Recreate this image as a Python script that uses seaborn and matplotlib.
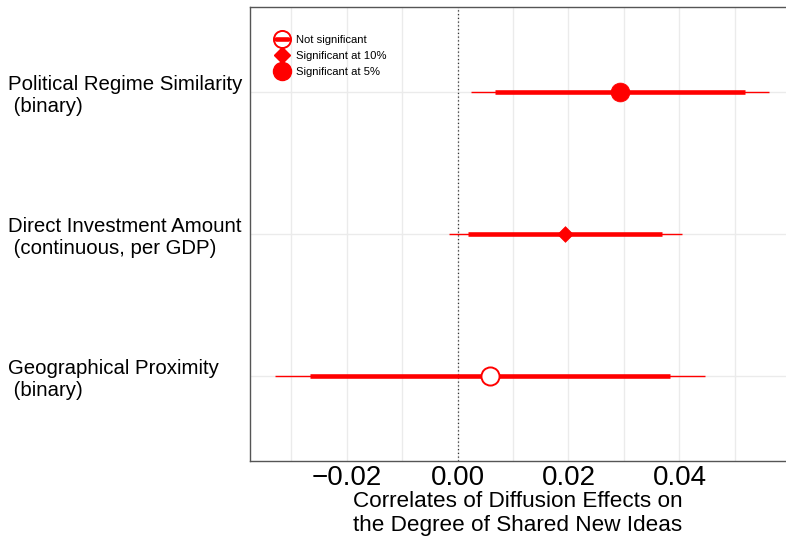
import numpy as np
import pandas as pd
import matplotlib
matplotlib.use("Agg")
import matplotlib.pyplot as plt
from matplotlib.lines import Line2D
from matplotlib.legend_handler import HandlerTuple
import seaborn as sns

# ---- data ----
variables = ["Political Regime Similarity\n (binary)",
             "Direct Investment Amount\n (continuous, per GDP)",
             "Geographical Proximity\n (binary)"]
estimates = [0.0293, 0.0194, 0.0059]
ci90_low = [0.0068, 0.0019, -0.0265]
ci90_high = [0.0518, 0.0368, 0.0383]
ci95_low = [0.0024, -0.0016, -0.0329]
ci95_high = [0.0561, 0.0404, 0.0446]
significance = ["Significant at 5%", "Significant at 10%", "Not significant"]
legend_labels = ["Not significant", "Significant at 10%", "Significant at 5%"]
xticks = [-0.02, 0.00, 0.02, 0.04]
xlabel = "Correlates of Diffusion Effects on\nthe Degree of Shared New Ideas"

df = pd.DataFrame({"variable": variables, "est": estimates,
                   "lo90": ci90_low, "hi90": ci90_high,
                   "lo95": ci95_low, "hi95": ci95_high,
                   "sig": significance})
df["ypos"] = np.arange(len(df))[::-1] + 1.0

sns.set_style("white")
plt.rcParams["font.family"] = ["Liberation Sans", "DejaVu Sans"]
plt.rcParams["text.color"] = "black"
plt.rcParams["xtick.color"] = "black"
plt.rcParams["ytick.color"] = "black"
plt.rcParams["axes.labelcolor"] = "black"

RED = "#FF0000"
fig = plt.figure(figsize=(7.86, 5.41), dpi=100)
ax = fig.add_axes([250 / 786, 1 - 461 / 541, 1 - 250 / 786, (461 - 7) / 541])

# grid
for xv in np.arange(-0.03, 0.06, 0.01):
    ax.axvline(xv, color="#ebebeb", lw=1.0, zorder=0)
for yv in df["ypos"]:
    ax.axhline(yv, color="#ebebeb", lw=1.0, zorder=0)
ax.axvline(0, color="#333333", lw=0.9, ls=(0, (1, 2)), zorder=1)

# intervals
ax.hlines(df["ypos"], df["lo95"], df["hi95"], color=RED, lw=1.0, zorder=2)
ax.hlines(df["ypos"], df["lo90"], df["hi90"], color=RED, lw=3.3, zorder=3)

# points
style = {
    "Significant at 5%": dict(marker="o", s=185, facecolor=RED, edgecolor=RED, linewidth=0.5),
    "Significant at 10%": dict(marker="D", s=64, facecolor=RED, edgecolor=RED, linewidth=0.5),
    "Not significant": dict(marker="o", s=170, facecolor="white", edgecolor=RED, linewidth=1.4),
}
for sig, kw in style.items():
    sub = df[df["sig"] == sig]
    sns.scatterplot(data=sub, x="est", y="ypos", ax=ax, zorder=4, legend=False, **kw)

ax.set_xlim(-0.0374, 0.0592)
ax.set_ylim(0.4, 3.6)
ax.set_xticks(xticks)
ax.set_xticklabels([f"{t:.2f}".replace("-", "\u2212") for t in xticks], fontsize=20)
ax.set_yticks(df["ypos"])
ax.set_yticklabels(df["variable"], fontsize=14.7, ha="left")
ax.tick_params(axis="y", length=3, color="#555555", pad=171)
ax.tick_params(axis="x", length=3, color="#555555", pad=0)
ax.set_xlabel(xlabel, fontsize=16.2, labelpad=0, linespacing=1.2)
ax.set_ylabel("")

for side in ["left", "bottom", "top"]:
    ax.spines[side].set_color("#555555")
    ax.spines[side].set_linewidth(1.0)
ax.spines["right"].set_visible(False)

# legend
h_ns_marker = Line2D([], [], marker="o", ms=12.3, mfc="white", mec=RED, mew=1.4, ls="none")
h_ns_line = Line2D([], [], color=RED, lw=3.3)
h_10 = Line2D([], [], marker="D", ms=8, mfc=RED, mec=RED, ls="none")
h_5 = Line2D([], [], marker="o", ms=13, mfc=RED, mec=RED, ls="none")
leg = ax.legend([(h_ns_marker, h_ns_line), h_10, h_5], legend_labels,
                handler_map={tuple: HandlerTuple(ndivide=1, pad=0)},
                loc="upper left", bbox_to_anchor=(0.034, 0.955), frameon=False,
                fontsize=8.1, handlelength=1.1, handletextpad=0.7,
                labelspacing=0.5, borderpad=0.2)

fig.savefig("out.png", dpi=100)
